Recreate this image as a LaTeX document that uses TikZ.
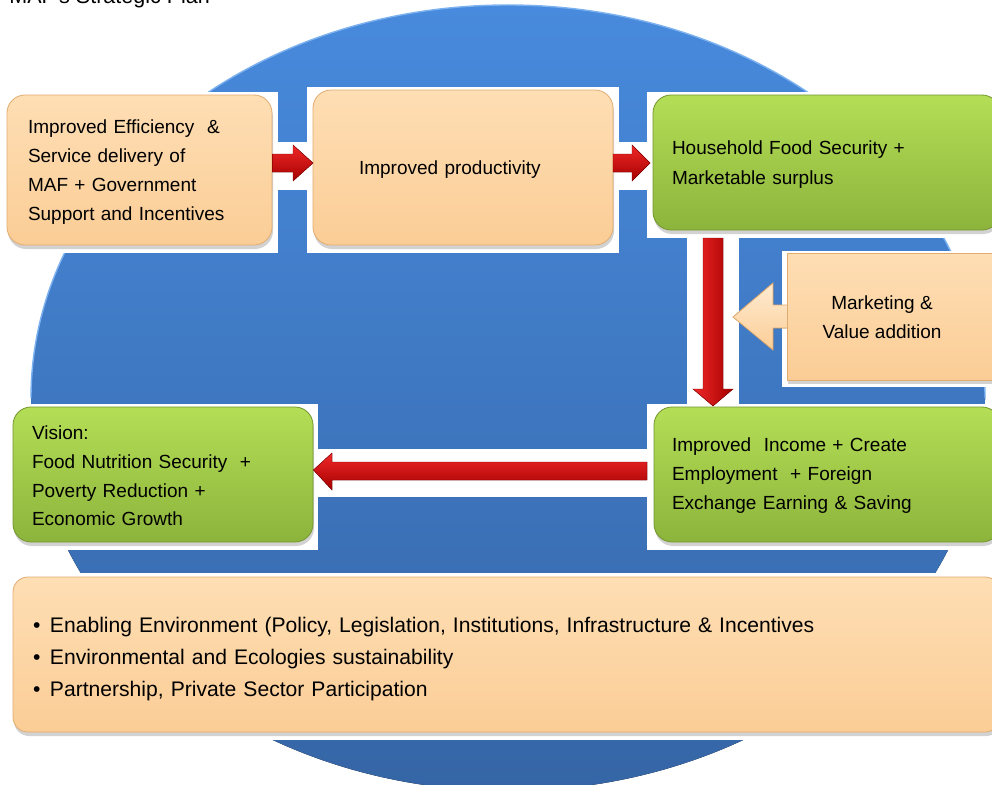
\documentclass[tikz,border=0pt]{standalone}
\usepackage{fontspec}
\setmainfont{Liberation Sans}
\usetikzlibrary{shadows}
\definecolor{peachT}{RGB}{254,222,180}
\definecolor{peachB}{RGB}{251,205,150}
\definecolor{peachD}{RGB}{226,172,112}
\definecolor{grnT}{RGB}{180,222,86}
\definecolor{grnB}{RGB}{140,180,60}
\definecolor{grnD}{RGB}{115,150,45}
\definecolor{bluT}{RGB}{72,138,221}
\definecolor{bluB}{RGB}{53,101,165}
\definecolor{bluRim}{RGB}{125,178,240}
\definecolor{redT}{RGB}{240,40,40}
\definecolor{redB}{RGB}{165,0,0}
\tikzset{
  boxbase/.style={rectangle, rounded corners=18pt, inner sep=0pt, line width=0.8pt,
    drop shadow={opacity=0.35, shadow xshift=1pt, shadow yshift=-4pt}},
  peachbox/.style={boxbase, top color=peachT, bottom color=peachB, draw=peachD},
  greenbox/.style={boxbase, top color=grnT, bottom color=grnB, draw=grnD},
  boxtext/.style={font=\fontsize{19}{29}\selectfont, align=left, inner sep=0pt},
  bgwhite/.style={fill=white},
  redarrowh/.style={top color=redT, bottom color=redB, draw=redB!80!black, line width=0.4pt},
  redarrowv/.style={left color=redT, right color=redB, draw=redB!80!black, line width=0.4pt},
  hollowarrow/.style={top color=peachT!60!white, bottom color=peachB, draw=peachD, line width=0.8pt},
}
\begin{document}
\begin{tikzpicture}[x=1pt,y=-1pt]
\useasboundingbox (0,0) rectangle (992,784);
% title (cut off at top)
\node[anchor=base east, inner sep=0pt, font=\fontsize{21.5}{26}\selectfont] (title) at (210,4) {MAF's Strategic Plan};
% blue ellipse
\fill[top color=bluT, bottom color=bluB] (508,398) ellipse [x radius=477, y radius=393];
\draw[bluRim, line width=1.4pt] (31,398) arc[start angle=180, end angle=360, x radius=477, y radius=393];
% white backgrounds
\fill[bgwhite] (0,92) rectangle (278,253);
\fill[bgwhite] (307,87) rectangle (619,253);
\fill[bgwhite] (647,92) rectangle (992,238);
\fill[bgwhite] (266,142) rectangle (319,190);
\fill[bgwhite] (607,142) rectangle (647,190);
\fill[bgwhite] (687,238) rectangle (739,415);
\fill[bgwhite] (782,251) rectangle (992,387);
\fill[bgwhite] (647,404) rectangle (992,550);
\fill[bgwhite] (0,404) rectangle (318,550);
\fill[bgwhite] (308,449) rectangle (647,497);
\fill[bgwhite] (0,573) rectangle (992,740);
% boxes
\node[peachbox, minimum width=265pt, minimum height=150pt] (b1) at (139.5,170) {};
\node[peachbox, minimum width=300pt, minimum height=155pt] (b2) at (463,167.5) {};
\node[greenbox, minimum width=347pt, minimum height=135pt] (b3) at (826.5,162.5) {};
\filldraw[hollowarrow] (733,317) -- (773,283) -- (773,305) -- (792,305) -- (792,328) -- (773,328) -- (773,350) -- cycle;
\node[peachbox, rounded corners=0pt, minimum width=213pt, minimum height=127pt] (mk) at (893.5,316.5) {};
\node[greenbox, minimum width=346pt, minimum height=135pt] (b4) at (827,474.5) {};
\node[greenbox, minimum width=300pt, minimum height=135pt] (b5) at (163,474.5) {};
\node[peachbox, rounded corners=15pt, minimum width=987pt, minimum height=155pt] (b6) at (506.5,654.5) {};
% texts
\node[boxtext, text width=223pt] (t1) at ([yshift=-2.5pt]b1.center)
  {Improved Efficiency~ \&\\Service delivery of\\MAF + Government\\Support and Incentives};
\node[boxtext, text width=208pt] (t2) at ([yshift=-2.5pt]b2.center) {Improved productivity};
\node[boxtext, font=\fontsize{19}{30}\selectfont, text width=309pt] (t3) at ([yshift=-2.5pt]b3.center)
  {Household Food Security +\\Marketable surplus};
\node[boxtext, align=center] (mkt) at (882,317) {Marketing \&\\Value addition};
\node[boxtext, text width=310pt] (t4) at ([yshift=-1.5pt]b4.center)
  {Improved~ Income + Create\\Employment~ + Foreign\\Exchange Earning \& Saving};
\node[boxtext, font=\fontsize{19}{28.7}\selectfont, text width=262pt] (t5) at ([yshift=-1.5pt]b5.center)
  {Vision:\\Food Nutrition Security~ +\\Poverty Reduction +\\Economic Growth};
\node[boxtext, text width=947pt, font=\fontsize{21.1}{32}\selectfont] (t6) at ([yshift=-5pt]b6.center)
  {\makebox[17pt][l]{•}Enabling Environment (Policy, Legislation, Institutions, Infrastructure \& Incentives\\
   \makebox[17pt][l]{•}Environmental and Ecologies sustainability\\
   \makebox[17pt][l]{•}Partnership, Private Sector Participation};
% red arrows
\filldraw[redarrowh] (b1.east |- 0,154) -- (293,154) -- (293,145) -- (313,163) -- (293,181) -- (293,172) -- (b1.east |- 0,172) -- cycle;
\filldraw[redarrowh] (613,154) -- (632,154) -- (632,145) -- (650,163) -- (632,181) -- (632,172) -- (613,172) -- cycle;
\filldraw[redarrowv] (703,238) -- (723,238) -- (723,389) -- (733,389) -- (713,406) -- (693,389) -- (703,389) -- cycle;
\filldraw[redarrowh] (647,462) -- (332,462) -- (332,453) -- (b5.east |- 0,470) -- (332,490) -- (332,480) -- (647,480) -- cycle;
\end{tikzpicture}
\end{document}
